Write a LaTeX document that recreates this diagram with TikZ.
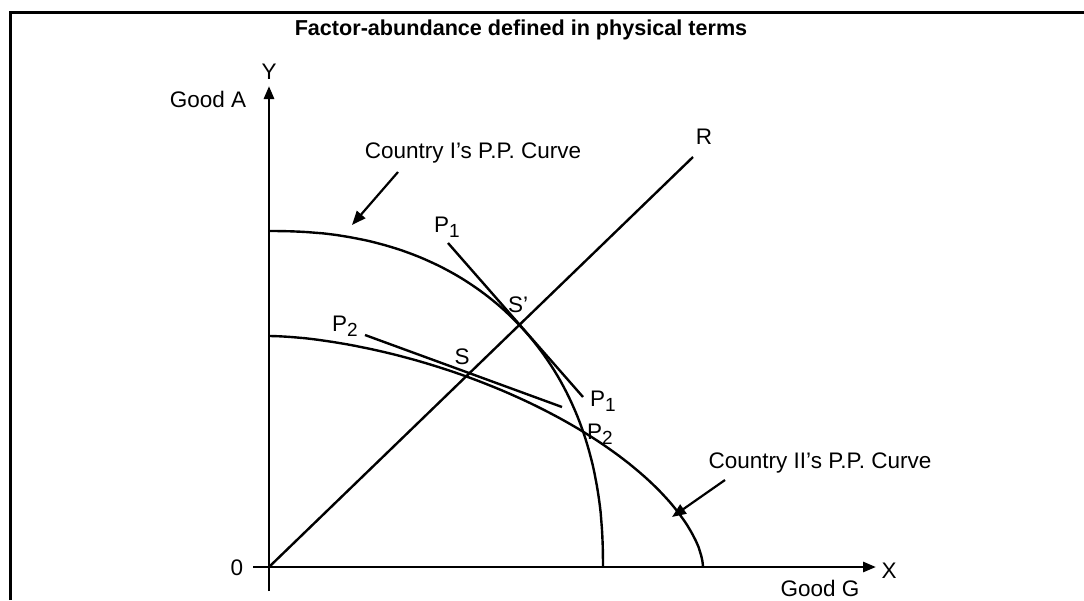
\documentclass[tikz,border=0pt]{standalone}
\usepackage{fontspec}
\setmainfont{Liberation Sans}
\usetikzlibrary{arrows.meta}
\newcommand{\lowsub}[1]{\raisebox{-0.45ex}{\fontsize{19}{19}\selectfont #1}}

\begin{document}
\begin{tikzpicture}[x=1pt,y=-1pt,
  lbl/.style={inner sep=0pt,font=\fontsize{22.5}{26}\selectfont},
  axis/.style={line width=2.8pt,-{Triangle[length=13pt,width=10pt]}},
  curve/.style={line width=2.4pt},
  pointer/.style={line width=2.2pt,-{Triangle[length=14pt,width=11pt]}}]

\clip (0,0) rectangle (1084,600);
\fill[white] (0,0) rectangle (1084,600);
\draw[line width=3pt] (10,600) -- (10,12) -- (1084,12);

\node[lbl,font=\fontsize{21.6}{26}\selectfont\bfseries] (title) at (521,30) {Factor-abundance defined in physical terms};

% axes
\coordinate (O) at (269,567);
\coordinate (Ytip) at (269,86);
\coordinate (Xtip) at (876,567);
\draw[axis] (269,591) -- (Ytip);
\draw[axis] (253,567) -- (Xtip);
\node[lbl] (ylab) at (269,72) {Y};
\node[lbl] (goodA) at (208,99) {Good A};
\node[lbl] (zero) at (237,568) {0};
\node[lbl] (xlab) at (889,571) {X};
\node[lbl] (goodG) at (820,588) {Good G};

% ray R
\coordinate (Rend) at (693,157);
\draw[curve] (O) -- (Rend);
\node[lbl] (rlab) at (704,137) {R};

% production possibility curves
\draw[curve] (269,231) -- plot[domain=89.5:0.5,samples=80]
  ({269+334*pow(cos(\x),2/2.25)},{567-336*pow(sin(\x),2/2.25)}) -- (603,567);
\draw[curve] (269,336) -- plot[domain=89.5:0.5,samples=80]
  ({269+434*pow(cos(\x),2/1.65)},{567-231*pow(sin(\x),2/1.65)}) -- (703,567);

% price lines
\coordinate (P1a) at (448,243);
\coordinate (P1b) at (583,397);
\coordinate (P2a) at (365,335);
\coordinate (P2b) at (562,407);
\draw[curve] (P1a) -- (P1b);
\draw[curve] (P2a) -- (P2b);
\node[lbl] (p1top) at (447,227) {P\lowsub{1}};
\node[lbl] (p1bot) at (603,401) {P\lowsub{1}};
\node[lbl] (p2left) at (345,326) {P\lowsub{2}};
\node[lbl] (p2bot) at (600,434) {P\lowsub{2}};
\node[lbl] (sdash) at (518,305) {S'};
\node[lbl] (s) at (462,357) {S};

% curve labels
\node[lbl] (countryI) at (473,153) {Country I's P.P. Curve};
\node[lbl] (countryII) at (820,463) {Country II's P.P. Curve};
\draw[pointer] (398,172) -- (352,225);
\draw[pointer] (725,480) -- (672,517);

\end{tikzpicture}
\end{document}
